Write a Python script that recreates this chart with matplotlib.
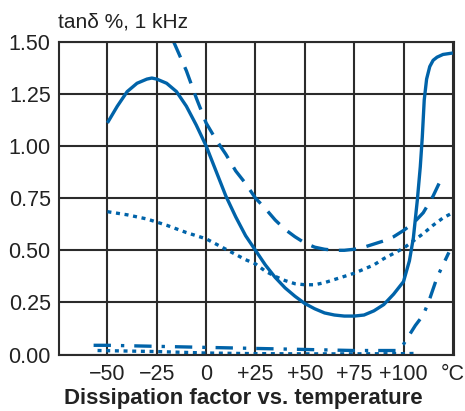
import matplotlib
matplotlib.use("Agg")
import matplotlib.pyplot as plt

plt.rcParams['font.family'] = ['Liberation Sans', 'DejaVu Sans']

# ---- data (temperature in °C, tanδ in %) ----
solid_t = [-50, -45, -40, -35, -30, -27.5, -25, -20, -15, -10, -5, 0, 5, 10, 15, 20, 25, 30,
           35, 40, 45, 50, 55, 60, 65, 70, 75, 80, 85, 90, 95, 100, 103, 105, 107, 108.5,
           109.5, 110.5, 111.7, 113.3, 115, 117, 120, 125]
solid_v = [1.11, 1.19, 1.26, 1.30, 1.32, 1.325, 1.32, 1.30, 1.26, 1.19, 1.10, 1.00, 0.88,
           0.76, 0.66, 0.57, 0.50, 0.43, 0.37, 0.32, 0.28, 0.245, 0.22, 0.20, 0.19, 0.185,
           0.185, 0.19, 0.21, 0.24, 0.29, 0.35, 0.45, 0.56, 0.74, 0.90, 1.04, 1.22, 1.32,
           1.38, 1.41, 1.425, 1.438, 1.445]

dashed_t = [-16.5, -10, -5, 0, 5, 10, 15, 20, 25, 30, 35, 40, 45, 50, 55, 60, 65, 70, 75,
            80, 85, 90, 95, 100, 105, 110, 115, 118]
dashed_v = [1.50, 1.36, 1.23, 1.11, 1.03, 0.96, 0.88, 0.82, 0.75, 0.70, 0.645, 0.60, 0.565,
            0.535, 0.515, 0.505, 0.50, 0.50, 0.505, 0.515, 0.53, 0.545, 0.565, 0.595, 0.63,
            0.68, 0.76, 0.82]

dotted_t = [-50, -40, -30, -20, -10, 0, 5, 10, 15, 20, 25, 30, 35, 40, 45, 50, 55, 60, 65,
            70, 75, 80, 85, 90, 95, 100, 105, 110, 115, 120, 125]
dotted_v = [0.685, 0.67, 0.65, 0.62, 0.585, 0.555, 0.53, 0.505, 0.48, 0.455, 0.435, 0.40,
            0.375, 0.355, 0.34, 0.335, 0.335, 0.345, 0.36, 0.375, 0.39, 0.41, 0.43, 0.46,
            0.485, 0.51, 0.545, 0.58, 0.62, 0.655, 0.68]

dashdot_t = [-57, -50, -25, 0, 25, 50, 75, 97, 100, 102, 106, 110, 113, 117, 120, 123]
dashdot_v = [0.045, 0.045, 0.04, 0.035, 0.03, 0.025, 0.02, 0.02, 0.05, 0.08, 0.14, 0.19,
             0.26, 0.37, 0.43, 0.49]

dotlow_t = [-55, -25, 0, 25, 50, 75, 100, 106]
dotlow_v = [0.02, 0.015, 0.008, 0.005, 0.004, 0.004, 0.005, 0.006]

x_ticks = [-50, -25, 0, 25, 50, 75, 100, 125]
x_labels = ['−50', '−25', '0', '+25', '+50', '+75', '+100', '°C']
y_ticks = [0.0, 0.25, 0.5, 0.75, 1.0, 1.25, 1.5]
y_labels = ['0.00', '0.25', '0.50', '0.75', '1.00', '1.25', '1.50']

blue = '#0063a9'
lw = 2.4

fig = plt.figure(figsize=(4.65, 4.11), dpi=100)
ax = fig.add_axes([0.127, 0.137, 0.849, 0.762])

ax.plot(solid_t, solid_v, color=blue, lw=lw, solid_capstyle='butt', solid_joinstyle='round')
ax.plot(dashed_t, dashed_v, color=blue, lw=lw, linestyle=(0, (5.2, 3.2)), dash_capstyle='butt')
ax.plot(dotted_t, dotted_v, color=blue, lw=lw, linestyle=(0, (1.2, 1.4)), dash_capstyle='butt')
ax.plot(dashdot_t, dashdot_v, color=blue, lw=lw, linestyle=(0, (5.2, 3.0, 1.0, 3.0)), dash_capstyle='butt')
ax.plot(dotlow_t, dotlow_v, color=blue, lw=lw, linestyle=(0, (1.2, 1.4)), dash_capstyle='butt')

ax.set_xlim(-74.5, 125.5)
ax.set_ylim(0, 1.5)
ax.set_xticks(x_ticks)
ax.set_xticklabels(x_labels)
ax.set_yticks(y_ticks)
ax.set_yticklabels(y_labels)
ax.tick_params(length=0, labelsize=15.5, colors='#222222')
ax.tick_params(axis='x', pad=7)
ax.tick_params(axis='y', pad=6)

ax.grid(True, color='#2b2b2b', lw=1.5)
ax.set_axisbelow(True)
for s in ax.spines.values():
    s.set_color('#2b2b2b')
    s.set_linewidth(1.5)

fig.text(0.125, 0.932, 'tanδ %, 1 kHz', fontsize=15, color='#222222', ha='left', va='baseline')
ax.set_xlabel('Dissipation factor vs. temperature', fontsize=16, fontweight='bold',
              color='#222222')
ax.xaxis.set_label_coords(0.467, -0.105)

fig.savefig('out.png', dpi=100)
